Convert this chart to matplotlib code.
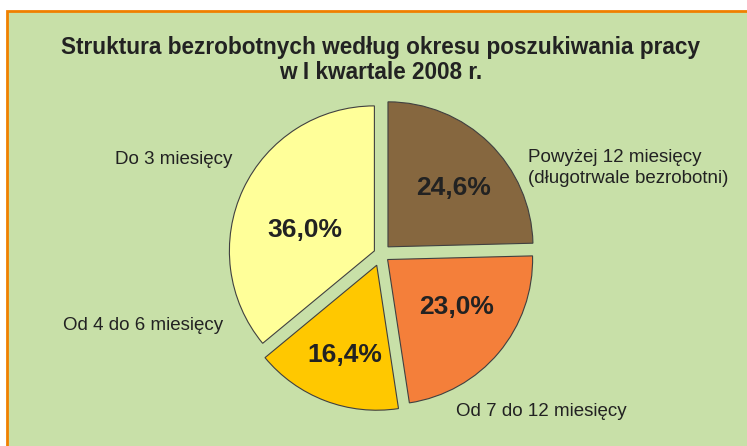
import matplotlib
matplotlib.use("Agg")
import matplotlib.pyplot as plt
from matplotlib.patches import Rectangle

# data
categories = [
    "Powyżej 12 miesięcy\n(długotrwale bezrobotni)",
    "Od 7 do 12 miesięcy",
    "Od 4 do 6 miesięcy",
    "Do 3 miesięcy",
]
shares = [24.6, 23.0, 16.4, 36.0]
colors = ["#86673F", "#F47F3A", "#FFC800", "#FFFF99"]
# explode offsets in pixels (pie explode is absolute, not scaled by radius)
explode = [10, 8.6, 12, 7.3]

title = "Struktura bezrobotnych według okresu poszukiwania pracy\nw I kwartale 2008 r."

W, H = 747, 446
fig = plt.figure(figsize=(W / 100, H / 100), dpi=100)
fig.patch.set_facecolor("white")
ax = fig.add_axes([0, 0, 1, 1])

# background panel with orange frame
ax.add_patch(Rectangle((7, -10), 760, 446 - 11 + 10, facecolor="#C8E0A8",
                       edgecolor="#F08000", linewidth=2, zorder=0))

wedges, texts, autotexts = ax.pie(
    shares,
    colors=colors,
    explode=explode,
    startangle=90,
    counterclock=False,
    center=(381, 192),
    radius=145,
    autopct=lambda p: f"{p:.1f}%".replace(".", ","),
    pctdistance=0.58,
    wedgeprops=dict(edgecolor="#404040", linewidth=0.8),
    textprops=dict(fontsize=19, fontweight="bold", color="#222222",
                   family="Liberation Sans"),
)

# percentage label positions (pixel coords)
pct_pos = [(454, 258), (457, 139), (345, 91), (305, 216)]
for t, p in zip(autotexts, pct_pos):
    t.set_position(p)
    t.set_ha("center")
    t.set_va("center")

# category labels
cat_pos = [(528, 278), (456, 35), (63, 120), (115, 286)]
for name, (x, y) in zip(categories, cat_pos):
    ax.text(x, y, name, ha="left", va="center", fontsize=13.5, color="#222222",
            family="Liberation Sans", linespacing=1.3)

ax.text(381, 446 - 60, title, ha="center", va="center", fontsize=16.3,
        fontweight="bold", color="#222222", family="Liberation Sans",
        linespacing=1.1)

ax.set_xlim(0, W)
ax.set_ylim(0, H)
ax.set_aspect("equal")
ax.axis("off")

fig.savefig("out.png", dpi=100, facecolor=fig.get_facecolor())
